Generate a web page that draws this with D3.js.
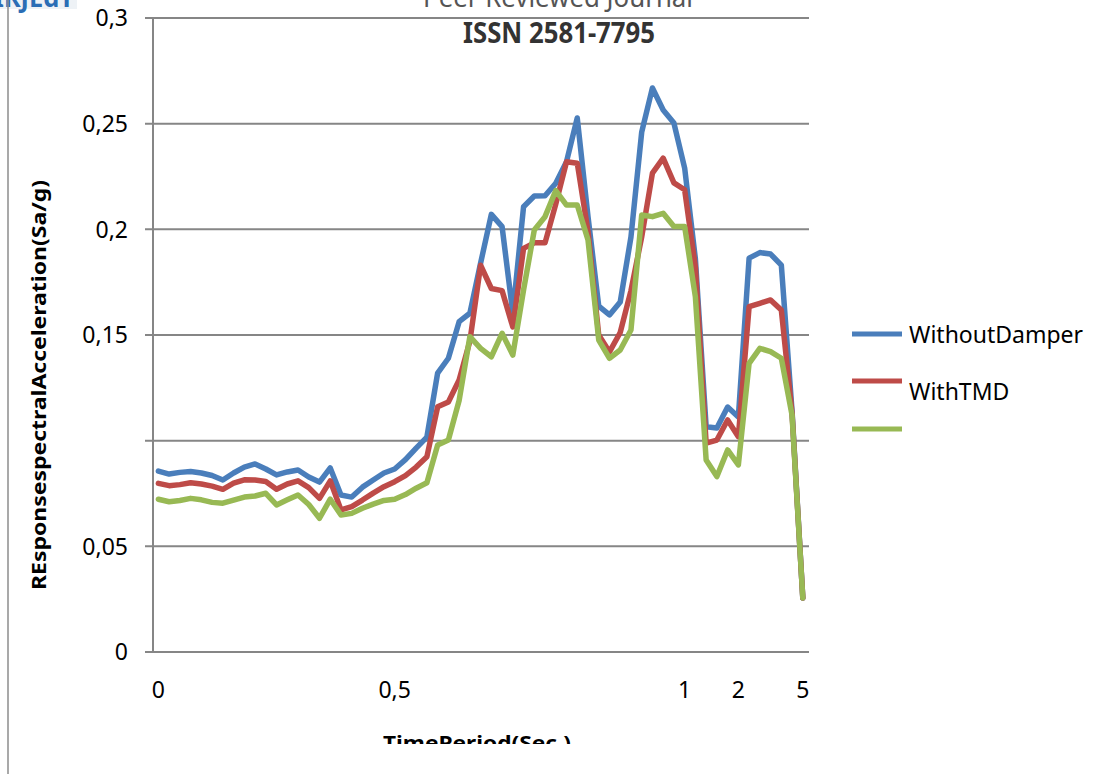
<!DOCTYPE html>
<html>
<head>
<meta charset="utf-8">
<script src="https://cdn.jsdelivr.net/npm/d3@7"></script>
<style>
  body { margin: 0; background: #fff; }
  svg { display: block; }
  text { font-family: "Noto Sans", "Open Sans", sans-serif; }
</style>
</head>
<body>
<div id="chart"></div>
<script>
// Response spectrum values (61 periods)
const seriesNames = ["WithoutDamper", "WithTMD", ""];
const seriesColors = ["#4a7ebb", "#be4b48", "#98b954"];

const withoutDamper = [
  0.0856, 0.0842, 0.0850, 0.0854, 0.0847, 0.0835, 0.0814, 0.0847, 0.0875, 0.0890,
  0.0866, 0.0838, 0.0852, 0.0861, 0.0828, 0.0804, 0.0871, 0.0743, 0.0733, 0.0780,
  0.0814, 0.0847, 0.0866, 0.0910, 0.0965, 0.1017, 0.1320, 0.1390, 0.1563, 0.1603,
  0.1840, 0.2071, 0.2013, 0.1603, 0.2107, 0.2158, 0.2159, 0.2218, 0.2320, 0.2527,
  0.2060, 0.1637, 0.1595, 0.1656, 0.1964, 0.2460, 0.2669, 0.2565, 0.2503, 0.2290,
  0.1860, 0.1066, 0.1060, 0.1159, 0.1112, 0.1864, 0.1890, 0.1883, 0.1831, 0.1140,
  0.0256
];
const withTMD = [
  0.0798, 0.0787, 0.0792, 0.0801, 0.0795, 0.0785, 0.0770, 0.0799, 0.0815, 0.0814,
  0.0807, 0.0770, 0.0795, 0.0810, 0.0778, 0.0727, 0.0810, 0.0672, 0.0688, 0.0719,
  0.0752, 0.0782, 0.0806, 0.0835, 0.0875, 0.0924, 0.1160, 0.1183, 0.1287, 0.1470,
  0.1830, 0.1720, 0.1710, 0.1538, 0.1910, 0.1936, 0.1936, 0.2120, 0.2320, 0.2313,
  0.1990, 0.1500, 0.1420, 0.1512, 0.1710, 0.1964, 0.2266, 0.2337, 0.2220, 0.2187,
  0.1820, 0.0988, 0.1003, 0.1098, 0.1019, 0.1634, 0.1650, 0.1666, 0.1618, 0.1130,
  0.0256
];
const thirdSeries = [
  0.0723, 0.0711, 0.0717, 0.0727, 0.0720, 0.0708, 0.0704, 0.0719, 0.0733, 0.0738,
  0.0751, 0.0696, 0.0720, 0.0743, 0.0698, 0.0633, 0.0723, 0.0648, 0.0656, 0.0680,
  0.0700, 0.0717, 0.0723, 0.0745, 0.0775, 0.0801, 0.0980, 0.1003, 0.1190, 0.1492,
  0.1437, 0.1397, 0.1508, 0.1405, 0.1713, 0.1997, 0.2060, 0.2183, 0.2115, 0.2115,
  0.1950, 0.1476, 0.1390, 0.1429, 0.1524, 0.2068, 0.2060, 0.2076, 0.2013, 0.2013,
  0.1680, 0.0909, 0.0830, 0.0956, 0.0885, 0.1366, 0.1437, 0.1421, 0.1390, 0.1120,
  0.0256
];

// category axis: only a few categories carry a label
const xTickIndex = [0, 22, 49, 54, 60];
const xTickLabels = ["0", "0,5", "1", "2", "5"];
const yTickValues = [0, 0.05, 0.1, 0.15, 0.2, 0.25, 0.3];
const yTickLabels = ["0", "0,05", "", "0,15", "0,2", "0,25", "0,3"];

const width = 1107, height = 774;
const plot = { left: 153, right: 809, top: 18, bottom: 652 };

const svg = d3.select("#chart").append("svg")
    .attr("width", width)
    .attr("height", height);

// page decorations (cut-off journal header)
const defs = svg.append("defs");
defs.append("clipPath").attr("id", "pageClip")
  .append("rect").attr("x", 0).attr("y", 0).attr("width", width).attr("height", 744);

svg.append("rect").attr("x", 0).attr("y", 0).attr("width", 77).attr("height", 9).attr("fill", "#eef2f6");
svg.append("text")
    .attr("x", -6).attr("y", 7)
    .attr("font-family", "Liberation Sans, Arial, sans-serif")
    .attr("font-size", 27).attr("font-weight", "bold")
    .attr("fill", "#2a6db5")
    .attr("textLength", 80).attr("lengthAdjust", "spacingAndGlyphs")
    .text("IRJEdT");
svg.append("text")
    .attr("x", 558).attr("y", 7)
    .attr("text-anchor", "middle")
    .attr("font-family", "Liberation Sans, Arial, sans-serif")
    .attr("font-size", 28)
    .attr("fill", "#555")
    .attr("textLength", 270).attr("lengthAdjust", "spacingAndGlyphs")
    .text("Peer Reviewed Journal");
svg.append("text")
    .attr("x", 559).attr("y", 43)
    .attr("text-anchor", "middle")
    .attr("font-family", "Liberation Sans, Arial, sans-serif")
    .attr("font-size", 29).attr("font-weight", "bold")
    .attr("fill", "#333")
    .attr("textLength", 192).attr("lengthAdjust", "spacingAndGlyphs")
    .text("ISSN 2581-7795");

// left page edge
svg.append("line")
    .attr("x1", 8).attr("x2", 8).attr("y1", 0).attr("y2", height)
    .attr("stroke", "#8c8c8c").attr("stroke-width", 1.5);

// scales
const x = d3.scalePoint()
    .domain(d3.range(withoutDamper.length))
    .range([158.4, 802.8]);
const y = d3.scaleLinear()
    .domain([0, 0.3])
    .range([plot.bottom, plot.top]);

// gridlines + y ticks
const grid = svg.append("g");
grid.selectAll("line.grid")
  .data(yTickValues)
  .enter().append("line")
    .attr("class", "grid")
    .attr("x1", plot.left - 8).attr("x2", plot.right)
    .attr("y1", d => y(d)).attr("y2", d => y(d))
    .attr("stroke", "#868686").attr("stroke-width", 2);

grid.selectAll("text")
  .data(yTickValues)
  .enter().append("text")
    .attr("x", 128)
    .attr("y", d => y(d))
    .attr("dy", "0.36em")
    .attr("text-anchor", "end")
    .attr("font-size", 23)
    .attr("fill", "#000")
    .text((d, i) => yTickLabels[i]);

// y axis line
svg.append("line")
    .attr("x1", plot.left).attr("x2", plot.left)
    .attr("y1", plot.top).attr("y2", plot.bottom)
    .attr("stroke", "#868686").attr("stroke-width", 2);

// x tick labels
svg.append("g").selectAll("text")
  .data(xTickIndex)
  .enter().append("text")
    .attr("x", d => x(d))
    .attr("y", 698)
    .attr("text-anchor", "middle")
    .attr("font-size", 23)
    .attr("fill", "#000")
    .text((d, i) => xTickLabels[i]);

// axis titles
svg.append("text")
    .attr("transform", "translate(46,385) rotate(-90)")
    .attr("text-anchor", "middle")
    .attr("font-size", 20).attr("font-weight", "bold")
    .attr("textLength", 410).attr("lengthAdjust", "spacingAndGlyphs")
    .text("REsponsespectralAcceleration(Sa/g)");

svg.append("text")
    .attr("clip-path", "url(#pageClip)")
    .attr("x", 477).attr("y", 750)
    .attr("text-anchor", "middle")
    .attr("font-size", 20).attr("font-weight", "bold")
    .attr("textLength", 188).attr("lengthAdjust", "spacingAndGlyphs")
    .text("TimePeriod(Sec.)");

// series lines
const allSeries = [withoutDamper, withTMD, thirdSeries];
const line = d3.line()
    .x((d, i) => x(i))
    .y(d => y(d));

svg.append("g").selectAll("path")
  .data(allSeries)
  .enter().append("path")
    .attr("d", d => line(d))
    .attr("fill", "none")
    .attr("stroke", (d, i) => seriesColors[i])
    .attr("stroke-width", 5.5)
    .attr("stroke-linejoin", "round")
    .attr("stroke-linecap", "round");

// legend
const legendY = [334, 381, 429];
const legendTextY = [343, 400, 447];
const legend = svg.append("g");
legend.selectAll("line")
  .data(seriesNames)
  .enter().append("line")
    .attr("x1", 852).attr("x2", 902)
    .attr("y1", (d, i) => legendY[i]).attr("y2", (d, i) => legendY[i])
    .attr("stroke", (d, i) => seriesColors[i])
    .attr("stroke-width", 5);
legend.selectAll("text")
  .data(seriesNames)
  .enter().append("text")
    .attr("x", 909)
    .attr("y", (d, i) => legendTextY[i])
    .attr("font-size", 23)
    .attr("fill", "#000")
    .text(d => d);
</script>
</body>
</html>
